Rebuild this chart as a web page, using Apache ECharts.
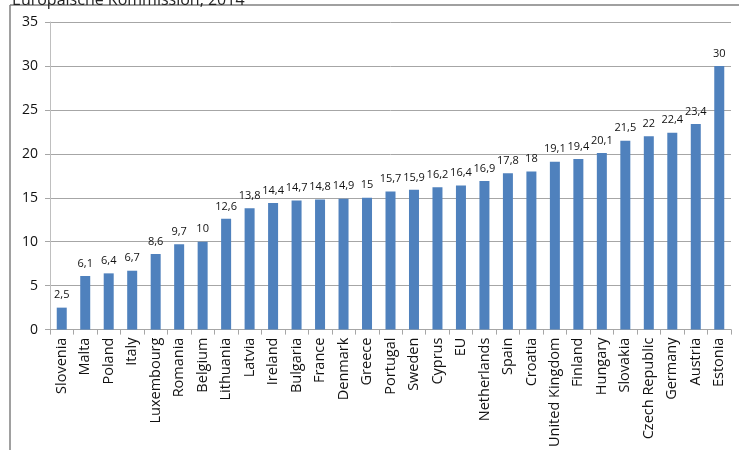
<!DOCTYPE html>
<html>
<head>
<meta charset="utf-8">
<script src="https://cdn.jsdelivr.net/npm/echarts@6/dist/echarts.min.js"></script>
<style>
  html, body { margin: 0; padding: 0; background: #fff; }
  #chart { width: 739px; height: 450px; }
</style>
</head>
<body>
<div id="chart"></div>
<script>
// Werte je Land
const countries = ['Slovenia', 'Malta', 'Poland', 'Italy', 'Luxembourg', 'Romania', 'Belgium', 'Lithuania',
  'Latvia', 'Ireland', 'Bulgaria', 'France', 'Denmark', 'Greece', 'Portugal', 'Sweden', 'Cyprus', 'EU',
  'Netherlands', 'Spain', 'Croatia', 'United Kingdom', 'Finland', 'Hungary', 'Slovakia', 'Czech Republic',
  'Germany', 'Austria', 'Estonia'];
const values = [2.5, 6.1, 6.4, 6.7, 8.6, 9.7, 10, 12.6, 13.8, 14.4, 14.7, 14.8, 14.9, 15, 15.7, 15.9, 16.2,
  16.4, 16.9, 17.8, 18, 19.1, 19.4, 20.1, 21.5, 22, 22.4, 23.4, 30];
const yTicks = [0, 5, 10, 15, 20, 25, 30, 35];
const title = 'Europäische Kommission, 2014';

const font = '"Open Sans", "Liberation Sans", sans-serif';
const chart = echarts.init(document.getElementById('chart'));

const option = {
  animation: false,
  backgroundColor: '#fff',
  textStyle: { fontFamily: font },
  graphic: [
    // Rahmen oben + links
    { type: 'line', shape: { x1: 10, y1: 5, x2: 739, y2: 5 }, style: { stroke: '#808080', lineWidth: 1.5 } },
    { type: 'line', shape: { x1: 10, y1: 5, x2: 10, y2: 450 }, style: { stroke: '#808080', lineWidth: 1.5 } },
    { type: 'text', left: 12, top: -8, z: 10,
      style: { text: title, font: '16px ' + font, fill: '#222' } }
  ],
  grid: { left: 50, right: 8, top: 22, bottom: 120, containLabel: false },
  xAxis: {
    type: 'category',
    data: countries,
    axisLine: { lineStyle: { color: '#a6a6a6' } },
    axisTick: { show: true, length: 5, lineStyle: { color: '#a6a6a6' } },
    axisLabel: { rotate: 90, interval: 0, fontSize: 14.5, color: '#111', margin: 8 }
  },
  yAxis: {
    type: 'value',
    min: yTicks[0],
    max: yTicks[yTicks.length - 1],
    interval: 5,
    axisLine: { show: true, lineStyle: { color: '#bfbfbf' } },
    axisTick: { show: true, length: 5, lineStyle: { color: '#a6a6a6' } },
    axisLabel: { fontSize: 14, color: '#111', margin: 12 },
    splitLine: { lineStyle: { color: '#a6a6a6' } }
  },
  series: [{
    type: 'bar',
    data: values,
    barWidth: 10,
    itemStyle: { color: '#4f81bd' },
    label: {
      show: true,
      position: 'top',
      distance: 7,
      fontSize: 11,
      color: '#111',
      formatter: p => String(p.value).replace('.', ',')
    }
  }]
};

chart.setOption(option);
</script>
</body>
</html>
